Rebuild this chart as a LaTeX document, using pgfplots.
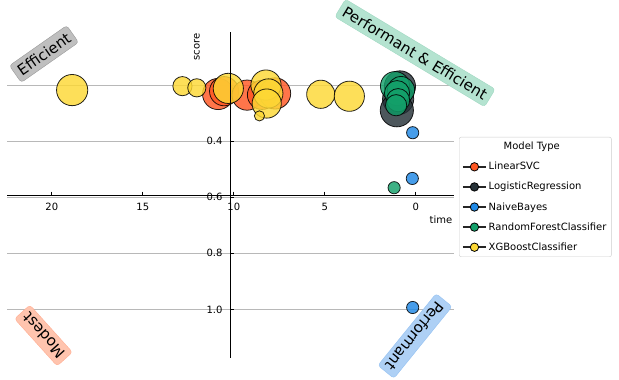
\documentclass[border=0pt]{standalone}
\usepackage{fontspec}
\setmainfont{DejaVu Sans}
\usepackage{pgfplots}
\pgfplotsset{compat=1.18}
\definecolor{svc}{HTML}{FF5722}
\definecolor{logr}{HTML}{263238}
\definecolor{nb}{HTML}{1E88E5}
\definecolor{rf}{HTML}{13A06A}
\definecolor{xgb}{HTML}{FDD835}
\pgfplotsset{
  bubble/.style={scatter, only marks, mark=*,
    scatter/use mapped color={draw=black, fill=#1, fill opacity=0.82, draw opacity=0.85},
    visualization depends on={\thisrow{r}\as\rad},
    scatter/@pre marker code/.append style={/tikz/mark size=\rad},
    line width=0.8pt, forget plot},
  legimg/.style={draw=black!85, line width=1.5pt, mark=*, mark size=4.2pt,
    mark options={solid, draw=black, fill=#1, line width=0.8pt}},
}
\begin{document}
\begin{tikzpicture}
\useasboundingbox (-7pt,-22pt) rectangle (612pt,358pt);
\begin{axis}[at={(0,0)}, anchor=south west, scale only axis, width=447pt, height=326pt,
  xmin=-2.1, xmax=22.46, ymin=0.011, ymax=1.173, x dir=reverse, y dir=reverse,
  axis line style={draw=none}, xtick=\empty, ytick={0.2,0.4,0.6,0.8,1.0}, yticklabels={},
  major tick length=0pt, ymajorgrids, grid style={color=black!28, line width=0.8pt},
  legend image code/.code={\draw[mark repeat=2,mark phase=2,#1] plot coordinates {(0pt,0pt) (11.5pt,0pt) (23pt,0pt)};},
  legend cell align=left,
  legend style={at={(axis description cs:1.0112,0.678)}, anchor=north west, draw=black!20,
    rounded corners=2pt, fill=white, font=\fontsize{10}{12}\selectfont, row sep=7pt,
    inner xsep=3pt, inner ysep=3pt},
]
\addlegendimage{empty legend}\addlegendentry{\hspace*{15pt}Model Type}
\addlegendimage{legimg=svc}\addlegendentry{LinearSVC}
\addlegendimage{legimg=logr}\addlegendentry{LogisticRegression}
\addlegendimage{legimg=nb}\addlegendentry{NaiveBayes}
\addlegendimage{legimg=rf}\addlegendentry{RandomForestClassifier}
\addlegendimage{legimg=xgb}\addlegendentry{XGBoostClassifier}
\addplot[bubble=svc] table {
x y r
10.86 0.232 15.6
10.53 0.222 14.6
9.27 0.236 15.1
8.45 0.235 14.6
7.73 0.230 15.6
};
\addplot[bubble=logr] table {
x y r
0.87 0.205 15.6
0.97 0.250 15.6
1.04 0.290 16.6
};
\addplot[bubble=nb] table {
x y r
0.17 0.370 6.1
0.19 0.533 6.1
0.17 0.993 6.1
};
\addplot[bubble=rf] table {
x y r
1.14 0.204 14.6
0.81 0.218 13.6
1.03 0.229 12.6
0.97 0.254 11.6
1.08 0.272 10.6
1.19 0.566 6.1
};
\addplot[bubble=xgb] table {
x y r
18.88 0.218 15.6
12.82 0.204 9.6
12.03 0.210 9.1
10.30 0.212 15.1
8.23 0.200 15.1
8.10 0.230 14.6
8.19 0.266 14.6
8.59 0.310 5.1
5.22 0.233 14.1
3.65 0.240 15.1
};
\end{axis}
\begin{axis}[at={(0,0)}, anchor=south west, scale only axis, width=447pt, height=326pt,
  axis lines=middle, axis line style={-, black, line width=0.8pt},
  xmin=-12.28, xmax=12.28, ymin=-0.581, ymax=0.581, x dir=reverse, y dir=reverse,
  xtick={-10.18,-5.18,-0.18,4.82,9.82}, xticklabels={0,5,10,15,20},
  ytick={-0.192,0.008,0.208,0.408}, yticklabels={0.4,0.6,0.8,1.0},
  hide obscured x ticks=false, hide obscured y ticks=false,
  tick style={black, line width=0.8pt}, major tick length=3.5pt, tick align=outside,
  xticklabel style={anchor=north, yshift=-1pt, font=\fontsize{10}{12}\selectfont},
  yticklabel style={anchor=east, xshift=-1pt, font=\fontsize{10}{12}\selectfont},
]
\end{axis}
\node[font=\fontsize{10}{12}\selectfont] at (434pt,138pt) {time};
\node[font=\fontsize{10}{12}\selectfont, rotate=90] at (190pt,311pt) {score};
\node[font=\fontsize{15}{18}\selectfont, rotate=35, fill=black!25, draw=black!40, rounded corners=3pt, inner sep=4.5pt] at (37pt,304pt) {Efficient};
\node[font=\fontsize{15}{18}\selectfont, rotate=-31, fill={rgb,255:red,180;green,227;blue,208}, draw={rgb,255:red,160;green,217;blue,194}, rounded corners=3pt, inner sep=4.5pt] at (408pt,305pt) {Performant \& Efficient};
\node[font=\fontsize{15}{18}\selectfont, rotate=132, fill={rgb,255:red,255;green,196;blue,174}, draw={rgb,255:red,255;green,173;blue,145}, rounded corners=3pt, inner sep=4.5pt] at (36.5pt,22.5pt) {Modest};
\node[font=\fontsize{15}{18}\selectfont, rotate=231, fill={rgb,255:red,174;green,208;blue,245}, draw={rgb,255:red,148;green,193;blue,242}, rounded corners=3pt, inner sep=4.5pt] at (408pt,22pt) {Performant};
\end{tikzpicture}
\end{document}
